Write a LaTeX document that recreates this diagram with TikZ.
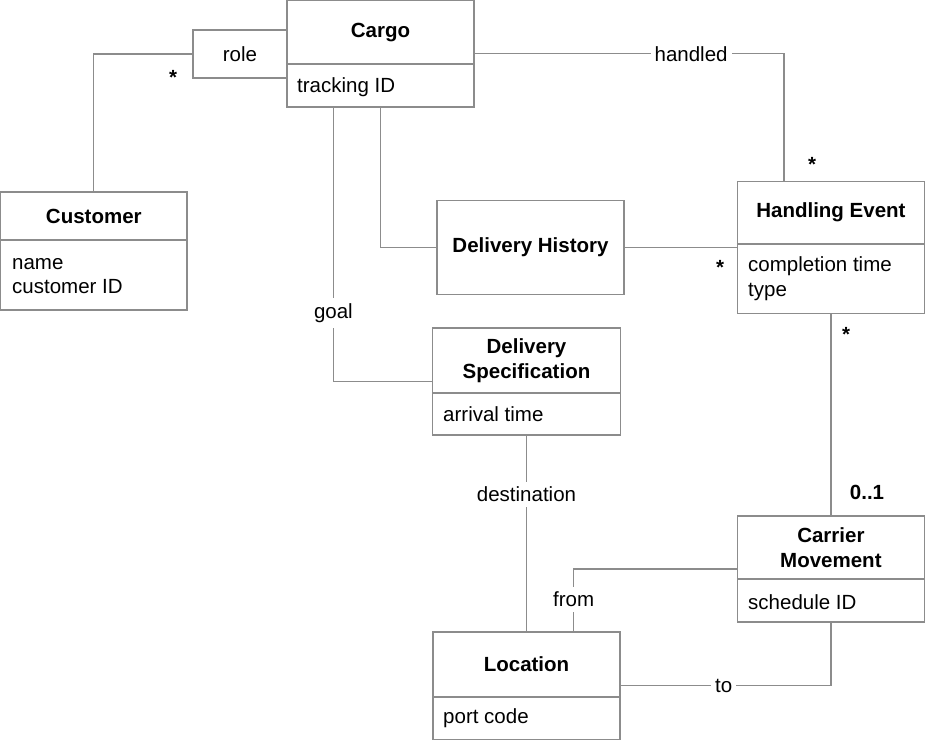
\documentclass[tikz,border=0pt]{standalone}
\usepackage{fontspec}
\setmainfont{Liberation Sans}
\usetikzlibrary{calc}
\definecolor{umlgray}{HTML}{8C8C8C}
\begin{document}
\begin{tikzpicture}[x=1pt, y=-1pt, font=\fontsize{20.5}{24.5}\selectfont]
    \tikzstyle{umlclass} = [rectangle, draw=umlgray, line width=1.3pt, inner sep=0pt]
    \tikzstyle{assoc} = [draw=umlgray, line width=1.3pt]
    \tikzstyle{title} = [font=\fontsize{20.5}{24.5}\selectfont\bfseries, align=center, inner sep=0pt]
    \tikzstyle{attr} = [anchor=west, align=left, inner sep=0pt]
    \tikzstyle{lbl} = [fill=white, inner xsep=4pt, inner ysep=5pt]
    \tikzstyle{mult} = [font=\fontsize{20.5}{24.5}\selectfont\bfseries, inner sep=0pt]
    \useasboundingbox (0,0) rectangle (925,740);

    % class frames
    \node (cargo) [umlclass, minimum width=187pt, minimum height=106.35pt] at (380.5,53.8) {};
    \node (role) [umlclass, minimum width=94pt, minimum height=48pt] at (240,54) {role};
    \node (customer) [umlclass, minimum width=186.35pt, minimum height=118pt] at (93.8,251) {};
    \node (history) [umlclass, minimum width=187pt, minimum height=94pt] at (530.5,247.5) {};
    \node (handling) [umlclass, minimum width=186.85pt, minimum height=132pt] at (830.9,247.5) {};
    \node (spec) [umlclass, minimum width=188pt, minimum height=107pt] at (526.5,381.5) {};
    \node (carrier) [umlclass, minimum width=186.85pt, minimum height=106pt] at (830.9,569) {};
    \node (location) [umlclass, minimum width=187pt, minimum height=107.35pt] at (526.5,685.7) {};

    % compartments
    \draw[assoc] (cargo.west |- 0,64) -- (cargo.east |- 0,64);
    \draw[assoc] (customer.west |- 0,240) -- (customer.east |- 0,240);
    \draw[assoc] (handling.west |- 0,244) -- (handling.east |- 0,244);
    \draw[assoc] (spec.west |- 0,393) -- (spec.east |- 0,393);
    \draw[assoc] (carrier.west |- 0,579) -- (carrier.east |- 0,579);
    \draw[assoc] (location.west |- 0,697) -- (location.east |- 0,697);

    % names and attributes
    \node (cargoName) [title] at (380.5,32.5) {Cargo};
    \node (cargoAttr) [attr] at (297,87) {tracking ID};
    \node (customerName) [title] at (93.8,216) {Customer};
    \node (customerAttr) [attr] at (12,276) {name\\customer ID};
    \node (historyName) [title] at (530.5,247.5) {Delivery History};
    \node (handlingName) [title] at (830.9,212) {Handling Event};
    \node (handlingAttr) [attr] at (748,278.5) {completion time\\type};
    \node (specName) [title] at (526.5,360.5) {Delivery\\Specification};
    \node (specAttr) [attr] at (443,414) {arrival time};
    \node (carrierName) [title] at (830.9,547.5) {Carrier\\Movement};
    \node (carrierAttr) [attr] at (748,602) {schedule ID};
    \node (locationName) [title] at (526.5,664) {Location};
    \node (locationAttr) [attr] at (443,718) {port code};

    % associations
    \draw[assoc] (customer.north) |- (role.west);
    \draw[assoc] (cargo.east) -| node[lbl, pos=0.35] {handled} ($(handling.north west)!0.25!(handling.north east)$);
    \draw[assoc] (history.west) -| (cargo.south);
    \draw[assoc] (history.east) -- (handling.west);
    \draw[assoc] ($(cargo.south west)!0.25!(cargo.south east)$) |- node[lbl, pos=0.375] {goal} (spec.west);
    \draw[assoc] (spec.south) -- node[lbl, pos=0.3] {destination} (location.north);
    \draw[assoc] (handling.south) -- (carrier.north);
    \draw[assoc] (carrier.west) -| node[lbl, pos=0.745] {from} ($(location.north west)!0.75!(location.north east)$);
    \draw[assoc] (location.east) -| node[lbl, pos=0.245] {to} (carrier.south);

    % multiplicities
    \node (multRole) [mult] at (173,77.5) {*};
    \node (multHandled) [mult] at (812,164.5) {*};
    \node (multHistory) [mult] at (720,267.5) {*};
    \node (multMove) [mult] at (846,334.5) {*};
    \node (multCarrier) [mult] at (867,492) {0..1};
\end{tikzpicture}
\end{document}
